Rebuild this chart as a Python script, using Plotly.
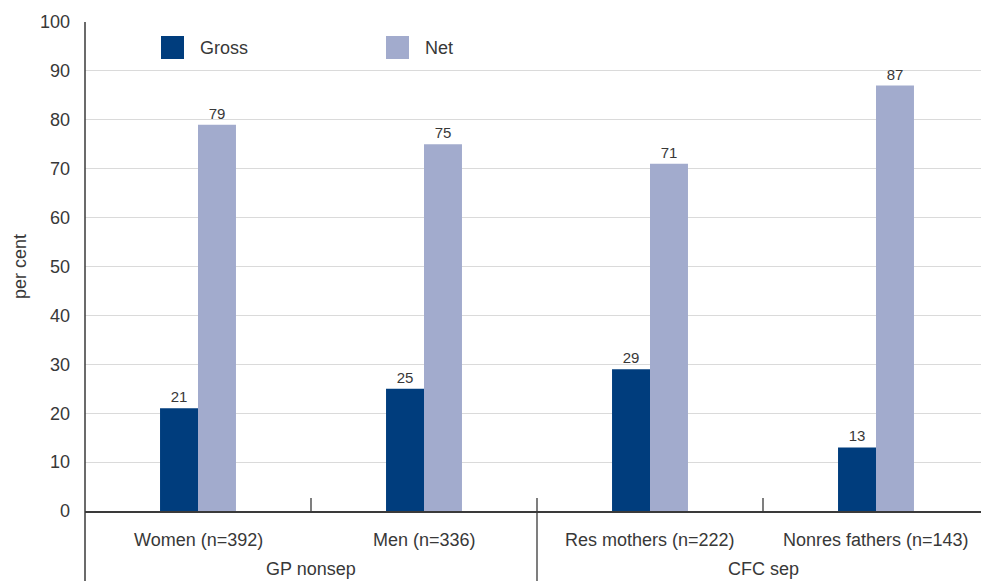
import plotly.graph_objects as go

# Survey categories and their parent groups
categories = ["Women (n=392)", "Men (n=336)", "Res mothers (n=222)", "Nonres fathers (n=143)"]
groups = ["GP nonsep", "CFC sep"]
group_spans = [(0, 1), (2, 3)]  # category indices covered by each group

gross = [21, 25, 29, 13]
net = [79, 75, 71, 87]

series_names = ["Gross", "Net"]
series_colors = ["#003d7d", "#a2abcd"]

y_ticks = [0, 10, 20, 30, 40, 50, 60, 70, 80, 90, 100]

FONT = "Liberation Sans, Arial, sans-serif"
TEXT = "#383838"
AXIS = "#3a3a3a"

W, H = 981, 581
ML, MR, MT, MB = 85, 0, 22, 70
plot_w = W - ML - MR
plot_h = H - MT - MB
slot_px = 226  # width of one category slot in pixels
x_min = -0.5
x_max = x_min + plot_w / slot_px


def px_x(px):
    return (px - ML) / plot_w


def px_y(py):
    return (H - MB - py) / plot_h


x_idx = list(range(len(categories)))

fig = go.Figure()
for name, vals, col in zip(series_names, [gross, net], series_colors):
    fig.add_trace(go.Bar(
        x=x_idx, y=vals, name=name, marker_color=col, marker_line_width=0,
        text=vals, textposition="outside", cliponaxis=False,
        textfont=dict(family=FONT, size=15, color=TEXT),
        showlegend=False,
    ))

shapes = []
annotations = []

# Legend swatches and labels
legend_pos = [(161, 198), (386, 423)]
for (sx, tx), name, col in zip(legend_pos, series_names, series_colors):
    shapes.append(dict(type="rect", xref="paper", yref="paper",
                       x0=px_x(sx), x1=px_x(sx + 23), y0=px_y(59), y1=px_y(36),
                       fillcolor=col, line_width=0, layer="above"))
    annotations.append(dict(text=name, xref="paper", yref="paper",
                            x=px_x(tx), y=px_y(47.5), xanchor="left", yanchor="middle",
                            showarrow=False, font=dict(family=FONT, size=18, color=TEXT)))

# Category labels below the axis
for i, lab in enumerate(categories):
    annotations.append(dict(text=lab, xref="x", yref="paper", x=i, y=px_y(540),
                            xanchor="center", yanchor="middle", showarrow=False,
                            font=dict(family=FONT, size=18, color=TEXT)))

# Group labels and separators
tick_top = px_y(498)
bottom = px_y(H + 2)
for g, (a, b) in zip(groups, group_spans):
    annotations.append(dict(text=g, xref="x", yref="paper", x=(a + b) / 2, y=px_y(569),
                            xanchor="center", yanchor="middle", showarrow=False,
                            font=dict(family=FONT, size=18, color=TEXT)))
    # short tick between categories inside a group
    shapes.append(dict(type="line", xref="x", yref="paper", x0=a + 0.5, x1=a + 0.5,
                       y0=0, y1=tick_top, line=dict(color=AXIS, width=1.3)))
    # long divider after a group (except the last)
    if b < len(categories) - 1:
        shapes.append(dict(type="line", xref="x", yref="paper", x0=b + 0.5, x1=b + 0.5,
                           y0=bottom, y1=tick_top, line=dict(color=AXIS, width=1.3)))

# Left axis line running down past the labels
shapes.append(dict(type="line", xref="paper", yref="paper", x0=0, x1=0,
                   y0=bottom, y1=1, line=dict(color=AXIS, width=1.5)))

# Y axis title
annotations.append(dict(text="per cent", xref="paper", yref="paper",
                        x=px_x(20), y=px_y(267), textangle=-90,
                        xanchor="center", yanchor="middle", showarrow=False,
                        font=dict(family=FONT, size=18, color=TEXT)))

fig.update_layout(
    width=W, height=H,
    margin=dict(l=ML, r=MR, t=MT, b=MB),
    paper_bgcolor="white", plot_bgcolor="white",
    barmode="group", bargap=0.664, bargroupgap=0,
    shapes=shapes, annotations=annotations,
    font=dict(family=FONT, color=TEXT),
)
fig.update_xaxes(range=[x_min, x_max], showticklabels=False, showgrid=False,
                 zeroline=False, showline=True, linecolor=AXIS, linewidth=1.5,
                 ticks="")
fig.update_yaxes(range=[0, 100], tickvals=y_ticks, showgrid=True,
                 gridcolor="#dadada", gridwidth=1, zeroline=False,
                 showline=False, ticks="", ticklabelstandoff=14,
                 tickfont=dict(family=FONT, size=18, color=TEXT))

fig.write_html("out.html")
